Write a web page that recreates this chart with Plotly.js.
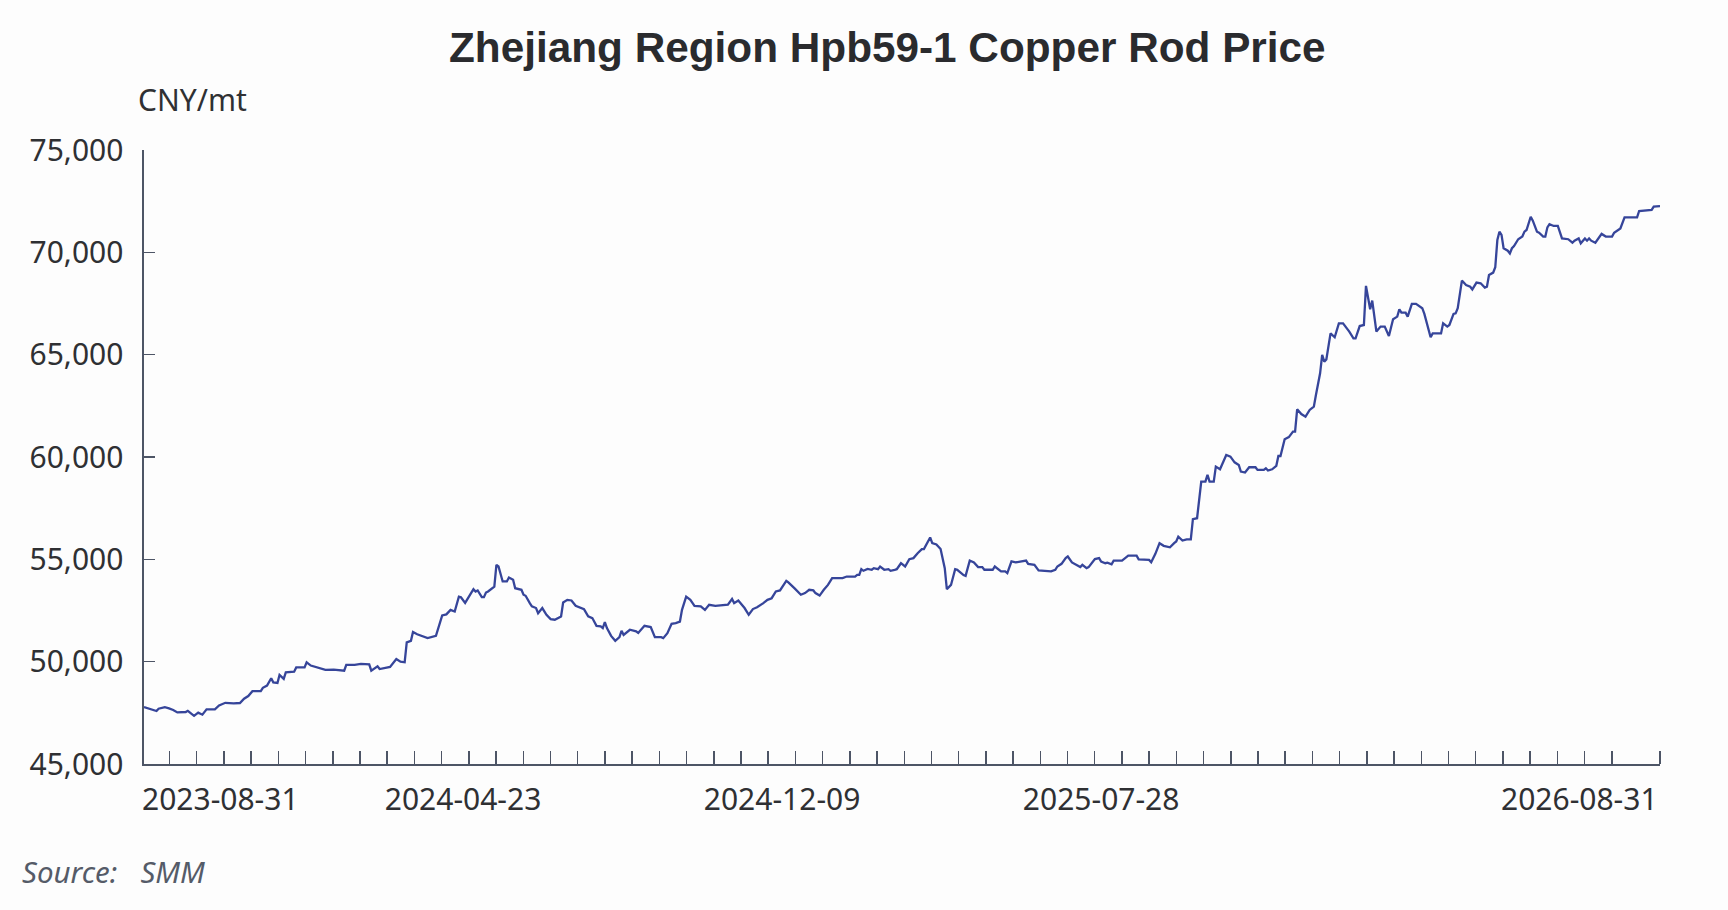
<!DOCTYPE html>
<html>
<head>
<meta charset="utf-8">
<script src="https://cdn.plot.ly/plotly-3.0.1.min.js"></script>
<style>
  html, body { margin: 0; padding: 0; background: #fdfdfd; }
  #chart { width: 1728px; height: 910px; }
</style>
</head>
<body>
<div id="chart"></div>
<script>
// Trading-day index (category position along the x axis) of each read point
const dayIndex = [
  0,3,6,7,10,12,14,16,20,21, 24,26,28,30,34,36,39,43,46,48, 50,52,56,57,59,61,62,64,65,67,
  68,72,73,77,78,80,85,87,91,96, 97,101,104,108,109,112,113,118,121,123, 125,126,128,129,131,136,140,141,143,145,
  147,149,151,152,154,158,159,160,162,163, 164,165,167,168,169,170,172,174,175,177,
  178,181,182,183,185,186,188,189,191,193, 195,197,200,201,203,205,207,209,211,213,
  215,217,219,220,221,222,224,226,228,229, 230,233,236,237,240,243,245,248,249,251,
  253,255,257,258,260,262,264,267,269,271, 274,280,282,283,285,288,290,292,294,297,
  299,301,303,305,
  308,309,311,312,315,317,319,321,322,324, 326,328,330,335,337,341,342,343,344,345,
  347,349,350,352,353,355,357,358,360,361, 363,365,367,369,371,373,374,377,378,380,
  382,384,385,387,389,390,393,394,396,398, 400,402,403,407,408,409,411,413,414,416,
  418,423,424,427,429,435,437,438,440,442, 443,445,448,449,450,452,453,456,458,
  459,461,462,464,465,469,472,476,477,482, 483,485,487,489,492,494,495,496,498,500,
  502,503,505,507,509,510,511,513,514,516, 519,521,523,525,526,528,530,533,534,537,
  538,539,541,543,544,545,547,549,551,552, 553,555,557,559,561,562,564,565,566,567,
  569,571,573,575,577,578,580,581,583,585, 586,588,589,591,593,595,597,599,601,602,
  603,
  605,606,608,610,612,613,614,615,617,618, 622,623,625,626,628,629,630,632,634,636,
  637,639,641,643,644,645,647,648,649,650, 651,652,654,655,656,657,659,661,662,663,
  665,666,668,669,671,672,673,674,676,678, 680,683,685,686,688,689,691,692,693,694,
  696,699,701,704,705,708,710,716,717,723, 724,727
];

// Price, CNY/mt
const price = [
  47780,47700,47590,47700,47780,47720,47640,47520,47540,47600, 47350,47510,47410,47670,47670,47860,47990,47960,47980,48190, 48320,48560,48560,48720,48830,49190,48990,48960,49350,49160,
  49480,49510,49720,49720,49970,49810,49680,49600,49610,49560, 49840,49840,49890,49870,49560,49770,49640,49740,50130,50000, 49970,50940,51020,51450,51340,51150,51260,51580,52260,52310,
  52530,52450,53180,53150,52870,53540,53430,53480,53150,53150, 53380,53430,53610,53670,54730,54650,53920,53920,54110,54000,
  53590,53510,53270,53220,52860,52700,52620,52370,52620,52290, 52080,52050,52210,52890,53020,52990,52730,52660,52570,52210,
  52130,51750,51720,51640,51930,51640,51260,51020,51200,51510, 51310,51560,51480,51400,51750,51690,51200,51200,51150,51390,
  51850,51880,51960,52530,53180,53020,52730,52700,52530,52780, 52730,52780,53060,52860,52990,52620,52290,52570,52660,52860,
  53020,53100,53430,53480,
  53950,53870,53640,53580,53270,53350,53510,53480,53350,53230, 53510,53750,54080,54080,54160,54160,54240,54240,54520,54440,
  54530,54490,54570,54520,54650,54490,54520,54440,54490,54520, 54810,54650,55010,55060,55300,55500,55500,56070,55790,55730,
  55500,54570,53540,53750,54520,54490,54230,54190,54940,54850, 54620,54620,54490,54490,54650,54570,54410,54410,54330,54900,
  54850,54940,54780,54730,54460,54410,54490,54650,54780,55060, 55140,54850,54680,54620,54730,54570,54620,55010,55060,
  54890,54810,54840,54760,54940,54940,55180,55180,55000,54970, 54860,55270,55790,55660,55590,55790,55870,56110,55920,55980,
  55980,56960,57010,58800,58800,59130,58800,58800,59530,59400, 60100,60020,59740,59610,59290,59240,59500,59500,59370,59370,
  59450,59340,59400,59570,60050,60050,60870,60970,61240,61240, 62330,62100,61970,62300,62460,63030,64090,64990,64660,64770,
  66040,65850,66530,66530,66290,66130,65800,65800,66400,66450, 68360,67220,67640,66130,66370,66370,65910,66730,66860,67220,
  67050,
  67050,66860,67480,67480,67310,67270,66990,66610,65850,66040, 66040,66530,66370,66450,66990,67020,67270,68620,68400,68320,
  68190,68520,68490,68280,68320,68890,69010,69270,70600,71010, 70850,70200,70080,69950,70200,70310,70640,70770,71010,71090,
  71740,71550,71010,70960,70770,70770,71220,71380,71290,71290, 70680,70640,70470,70570,70680,70440,70680,70570,70680,70570,
  70470,70900,70770,70770,70960,71170,71710,71710,72020,72070, 72230,72260
];

// Axis labels
const firstDate = '2023-08-31';
const lastDate = '2026-08-31';
const midLabelIndex = [153, 306, 459];
const midLabelText = ['2024-04-23', '2024-12-09', '2025-07-28'];
const lastIndex = 727;
const yTicks = [45000, 50000, 55000, 60000, 65000, 70000, 75000];

const titleText = 'Zhejiang Region Hpb59-1 Copper Rod Price';
const unitText = 'CNY/mt';
const sourceText = 'Source:\u00a0\u00a0\u00a0SMM';

// minor tick marks along the category axis (every ~13 categories) plus the axis end
const tickStart = 12.23, tickStep = 13.05;
const minorTicks = [];
for (let v = tickStart; v < lastIndex - 20; v += tickStep) minorTicks.push(v);
minorTicks.push(lastIndex);

const axisColor = '#4d5566';
const textColor = '#2f3033';
const lineColor = '#36459a';
const tickFont = { family: 'Noto Sans, Open Sans, sans-serif', size: 30, color: textColor };

const trace = {
  type: 'scatter',
  mode: 'lines',
  x: dayIndex,
  y: price,
  line: { color: lineColor, width: 2.3 },
  hoverinfo: 'y'
};

const layout = {
  width: 1728,
  height: 910,
  paper_bgcolor: '#fdfdfd',
  plot_bgcolor: '#fdfdfd',
  margin: { l: 144, r: 68, t: 150, b: 146, pad: 0 },
  showlegend: false,
  title: {
    text: titleText,
    xref: 'container', x: 0.5135, xanchor: 'center',
    yref: 'container', y: 0.948, yanchor: 'middle',
    font: { family: 'Liberation Sans, Arial, sans-serif', size: 42.3, color: '#2a2b2e', weight: 700 }
  },
  xaxis: {
    range: [0, lastIndex],
    tickmode: 'array',
    tickvals: midLabelIndex,
    ticktext: midLabelText,
    ticks: '',
    tickfont: tickFont,
    ticklabelstandoff: 8,
    showline: true, linecolor: axisColor, linewidth: 1.6,
    showgrid: false, zeroline: false,
    minor: { tickmode: 'array', tickvals: minorTicks, ticks: 'inside', ticklen: 13, tickwidth: 1.5, tickcolor: axisColor, showgrid: false },
    fixedrange: true
  },
  yaxis: {
    range: [45000, 75000],
    tickmode: 'array',
    tickvals: yTicks,
    tickformat: ',d',
    ticks: 'inside', ticklen: 11, tickwidth: 1.5, tickcolor: axisColor,
    tickfont: tickFont,
    ticklabelstandoff: 13,
    showline: true, linecolor: axisColor, linewidth: 1.6,
    showgrid: false, zeroline: false,
    fixedrange: true
  },
  annotations: [
    { text: firstDate, xref: 'x', x: 0, xanchor: 'left', xshift: -4, yref: 'paper', y: -0.0554, yanchor: 'middle', showarrow: false, font: tickFont },
    { text: lastDate, xref: 'x', x: lastIndex, xanchor: 'right', xshift: 0, yref: 'paper', y: -0.0554, yanchor: 'middle', showarrow: false, font: tickFont },
    { text: unitText, xref: 'paper', x: -0.0036, xanchor: 'left', xshift: -3, yref: 'paper', y: 1.0822, yanchor: 'middle', showarrow: false, font: tickFont },
    { text: sourceText, xref: 'paper', x: -0.0796, xanchor: 'left', xshift: -3, yref: 'paper', y: -0.1743, yanchor: 'middle', showarrow: false,
      font: { family: 'Noto Sans, Open Sans, sans-serif', size: 29.5, color: '#555b68', style: 'italic' } }
  ]
};

Plotly.newPlot('chart', [trace], layout, { displayModeBar: false, staticPlot: true });
</script>
</body>
</html>
